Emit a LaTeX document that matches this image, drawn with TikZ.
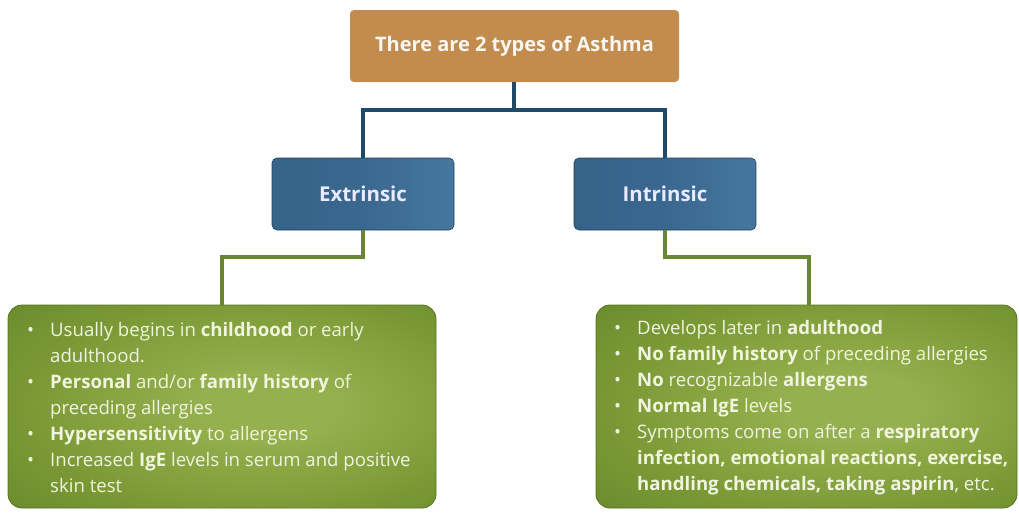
\documentclass[tikz,border=0pt]{standalone}
\usepackage{fontspec}
\setmainfont{Open Sans}
\usetikzlibrary{calc}
\definecolor{tan}{HTML}{C28C4E}
\definecolor{blueA}{HTML}{27506F}
\definecolor{blueB}{HTML}{335F84}
\definecolor{blueC}{HTML}{4A7BA4}
\definecolor{blueline}{HTML}{1F4A68}
\definecolor{greenout}{HTML}{5F7E25}
\definecolor{greenmid}{HTML}{7B9A36}
\definecolor{greenin}{HTML}{95B04E}
\definecolor{greenline}{HTML}{6B8630}
\definecolor{greenborder}{HTML}{56741F}
\definecolor{txtlight}{HTML}{F1F4DF}
\pgfdeclareradialshading{greenglow}{\pgfpoint{6bp}{0bp}}{color(0bp)=(greenin); color(8bp)=(greenin); color(26bp)=(greenmid); color(48bp)=(greenout); color(80bp)=(greenout)}
\pgfdeclarehorizontalshading{bluegrad}{100bp}{color(0bp)=(blueA); color(8bp)=(blueB); color(50bp)=(blueB!70!blueC); color(82bp)=(blueC); color(95bp)=(blueB); color(100bp)=(blueA)}
\tikzset{
  titlebox/.style={draw=none, fill=tan, rounded corners=4pt, minimum width=329pt, minimum height=72pt,
     text=white!92!tan, font=\fontsize{20}{24}\selectfont\bfseries},
  typebox/.style={draw=blueA!80!black, line width=0.6pt, rounded corners=5pt, shading=bluegrad,
     minimum width=182pt, minimum height=72pt, text=white!92!blue, font=\fontsize{20.4}{24}\selectfont\bfseries},
  listbox/.style={draw=greenborder, line width=0.8pt, rounded corners=14pt, shading=greenglow,
     minimum height=203pt},
  listtext/.style={text=txtlight, inner sep=0pt, font=\fontsize{18.6}{26}\selectfont, anchor=west},
  blink/.style={draw=blueline, line width=3.2pt},
  glink/.style={draw=greenline, line width=3.2pt},
}
\newcommand{\bul}{\textbullet}
\begin{document}
\begin{tikzpicture}[x=1pt,y=-1pt]
\useasboundingbox (0,0) rectangle (1019,512);
\node[titlebox] (title) at (514.5,46) {There are 2 types of Asthma};
\node[typebox] (ext) at (363,194) {Extrinsic};
\node[typebox] (int) at (665,194) {Intrinsic};
\node[listbox, minimum width=428pt] (lbox) at (222,406.5) {};
\node[listbox, minimum width=421pt] (rbox) at (806.5,406.5) {};

\coordinate (hj) at (514,110);
\draw[blink] (title.south -| hj) -- (hj);
\draw[blink] (ext.north) |- (hj) -| (int.north);
\coordinate (gl) at (222,257);
\coordinate (gr) at (809,257);
\draw[glink] (ext.south) |- (gl) -- (gl |- lbox.north);
\draw[glink] (int.south) |- (gr) -- (gr |- rbox.north);

\node[listtext] (ltext) at (27,409) {%
\begin{tabular}{@{}p{23pt}@{}l@{}}
\bul & Usually begins in \textbf{childhood} or early\\
 & adulthood.\\
\bul & \textbf{Personal} and/or \textbf{family history} of\\
 & preceding allergies\\
\bul & \textbf{Hypersensitivity} to allergens\\
\bul & Increased \textbf{IgE} levels in serum and positive\\
 & skin test
\end{tabular}};
\node[listtext] (rtext) at (614,407.5) {%
\begin{tabular}{@{}p{23pt}@{}l@{}}
\bul & Develops later in \textbf{adulthood}\\
\bul & \textbf{No family history} of preceding allergies\\
\bul & \textbf{No} recognizable \textbf{allergens}\\
\bul & \textbf{Normal IgE} levels\\
\bul & Symptoms come on after a \textbf{respiratory}\\
 & \textbf{infection, emotional reactions, exercise,}\\
 & \textbf{handling chemicals, taking aspirin}, etc.
\end{tabular}};
\end{tikzpicture}
\end{document}
